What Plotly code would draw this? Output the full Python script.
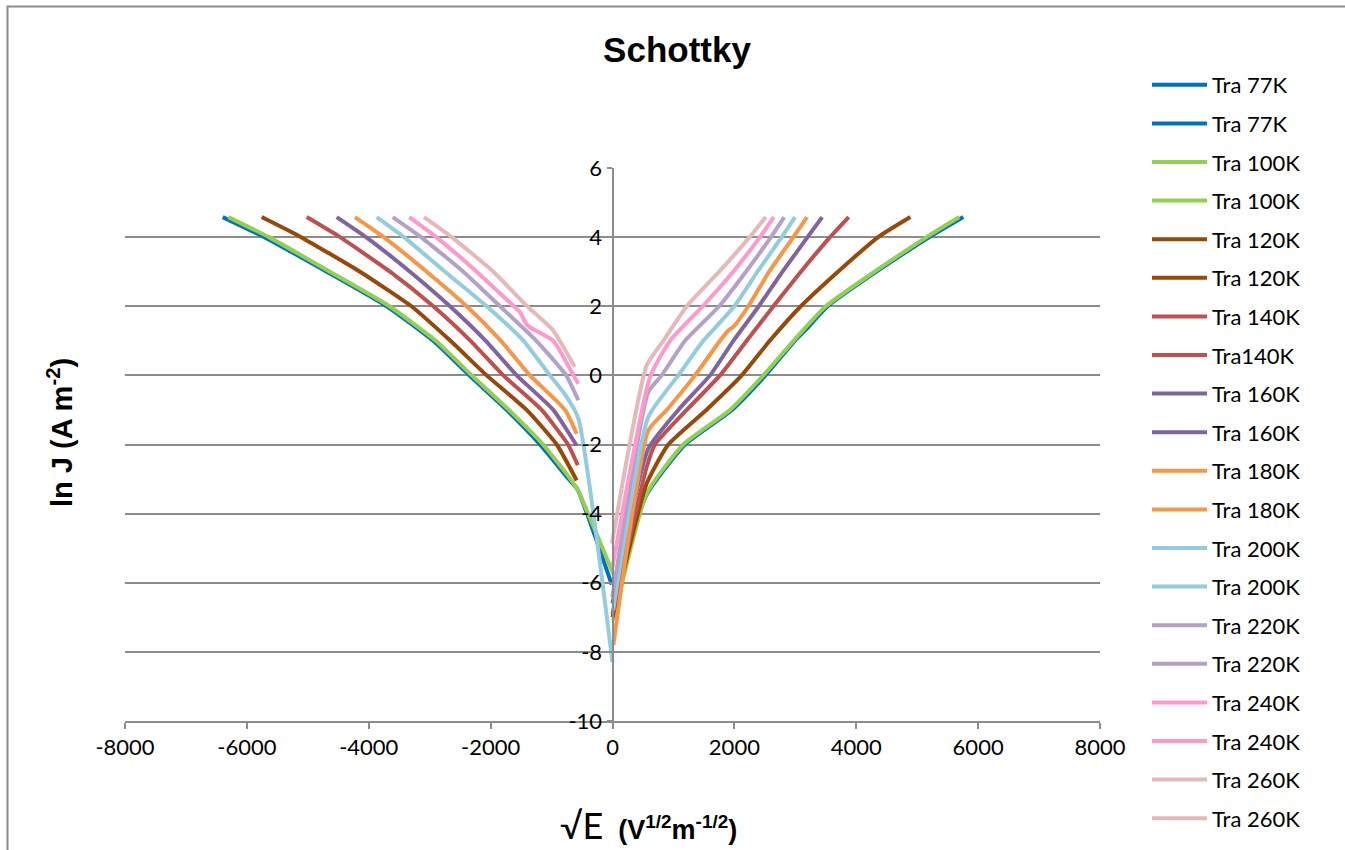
import plotly.graph_objects as go

# ---------------- data ----------------
temps = ["77K", "100K", "120K", "140K", "160K", "180K", "200K", "220K", "240K", "260K"]
legend_names = [
    ("Tra 77K", "Tra 77K"), ("Tra 100K", "Tra 100K"), ("Tra 120K", "Tra 120K"),
    ("Tra 140K", "Tra140K"), ("Tra 160K", "Tra 160K"), ("Tra 180K", "Tra 180K"),
    ("Tra 200K", "Tra 200K"), ("Tra 220K", "Tra 220K"), ("Tra 240K", "Tra 240K"),
    ("Tra 260K", "Tra 260K"),
]
colors = ["#0070C0", "#92D050", "#984807", "#C0504D", "#8064A2",
          "#F79646", "#93CDDD", "#B3A2C7", "#FF99CC", "#E6B9B8"]

# positive side (right branch): sqrt(E) values and ln J values
pos_x_77 = [0, 561, 1190, 1960, 2510, 2990, 3187, 3530, 4330, 5200, 5757]
pos_y_77 = [-6.4, -3.45, -2.0, -1.0, 0.0, 1.0, 1.35, 2.0, 3.0, 4.0, 4.58]
pos_x_100 = [13, 561, 1162, 1928, 2475, 2970, 3500, 4300, 5155, 5690]
pos_y_100 = [-7.09, -3.42, -2.0, -1.0, 0.0, 1.0, 2.0, 3.0, 4.0, 4.58]
pos_x_120 = [0, 561, 916, 1540, 2120, 2580, 3090, 3700, 4360, 4888]
pos_y_120 = [-7.0, -3.13, -2.0, -1.0, 0.0, 1.0, 2.0, 3.0, 4.0, 4.58]
pos_x_140 = [0, 561, 697, 1218, 1764, 2202, 2640, 3091, 3570, 3876]
pos_y_140 = [-6.9, -2.65, -2.0, -1.0, 0.0, 1.0, 2.0, 3.0, 4.0, 4.58]
pos_x_160 = [0, 588, 1080, 1600, 1983, 2400, 2790, 3200, 3441]
pos_y_160 = [-6.6, -2.12, -1.0, 0.0, 1.0, 2.0, 3.0, 4.0, 4.58]
pos_x_180 = [13, 588, 889, 1354, 1764, 1900, 1990, 2230, 2570, 2968, 3192]
pos_y_180 = [-7.81, -1.59, -1.0, 0.0, 1.0, 1.3, 1.42, 2.0, 3.0, 4.0, 4.58]
pos_x_200 = [10, 588, 1080, 1490, 2000, 2380, 2776, 2995]
pos_y_200 = [-6.8, -1.2, 0.0, 1.0, 2.0, 3.0, 4.0, 4.58]
pos_x_220 = [0, 588, 807, 1190, 1750, 2190, 2600, 2817]
pos_y_220 = [-6.41, -0.48, 0.0, 1.0, 2.0, 3.0, 4.0, 4.58]
pos_x_240 = [0, 615, 944, 1480, 1980, 2420, 2645]
pos_y_240 = [-5.55, -0.05, 1.0, 2.0, 3.0, 4.0, 4.58]
pos_x_260 = [-10, 561, 834, 1218, 1750, 2250, 2515]
pos_y_260 = [-4.87, 0.29, 1.0, 2.0, 3.0, 4.0, 4.58]

# negative side (left branch)
neg_x_77 = [-13, -580, -720, -1190, -1737, -2350, -2941, -3706, -4690, -5714, -6397]
neg_y_77 = [-6.05, -3.28, -3.0, -2.0, -1.0, 0.0, 1.0, 2.0, 3.0, 4.0, 4.58]
neg_x_100 = [13, -575, -690, -1140, -1700, -2310, -2900, -3660, -4640, -5638, -6304]
neg_y_100 = [-5.75, -3.3, -3.0, -2.0, -1.0, 0.0, 1.0, 2.0, 3.0, 4.0, 4.58]
neg_x_120 = [-588, -916, -1409, -2065, -2660, -3300, -4144, -5112, -5757]
neg_y_120 = [-3.04, -2.0, -1.0, 0.0, 1.0, 2.0, 3.0, 4.0, 4.58]
neg_x_140 = [-570, -730, -1163, -1792, -2330, -2941, -3651, -4471, -5018]
neg_y_140 = [-2.6, -2.0, -1.0, 0.0, 1.0, 2.0, 3.0, 4.0, 4.58]
neg_x_160 = [-588, -971, -1572, -2080, -2667, -3323, -4045, -4526]
neg_y_160 = [-2.03, -1.0, 0.0, 1.0, 2.0, 3.0, 4.0, 4.58]
neg_x_180 = [-588, -779, -1354, -1830, -2393, -3049, -3755, -4226]
neg_y_180 = [-1.69, -1.0, 0.0, 1.0, 2.0, 3.0, 4.0, 4.58]
neg_x_200 = [0, -560, -760, -1026, -1460, -2065, -2749, -3422, -3870]
neg_y_200 = [-8.3, -1.25, -0.6, 0.0, 1.0, 2.0, 3.0, 4.0, 4.58]
neg_x_220 = [-561, -760, -1250, -1846, -2448, -3143, -3607]
neg_y_220 = [-0.72, 0.0, 1.0, 2.0, 3.0, 4.0, 4.58]
neg_x_240 = [-561, -640, -971, -1400, -1518, -1620, -2229, -2892, -3334]
neg_y_240 = [-0.24, 0.0, 1.0, 1.45, 1.83, 2.0, 3.0, 4.0, 4.58]
neg_x_260 = [-620, -975, -1400, -1956, -2638, -3093]
neg_y_260 = [0.25, 1.3, 2.0, 3.0, 4.0, 4.58]

pos_series = [(pos_x_77, pos_y_77), (pos_x_100, pos_y_100), (pos_x_120, pos_y_120),
              (pos_x_140, pos_y_140), (pos_x_160, pos_y_160), (pos_x_180, pos_y_180),
              (pos_x_200, pos_y_200), (pos_x_220, pos_y_220), (pos_x_240, pos_y_240),
              (pos_x_260, pos_y_260)]
neg_series = [(neg_x_77, neg_y_77), (neg_x_100, neg_y_100), (neg_x_120, neg_y_120),
              (neg_x_140, neg_y_140), (neg_x_160, neg_y_160), (neg_x_180, neg_y_180),
              (neg_x_200, neg_y_200), (neg_x_220, neg_y_220), (neg_x_240, neg_y_240),
              (neg_x_260, neg_y_260)]

x_tick_vals = [-8000, -6000, -4000, -2000, 0, 2000, 4000, 6000, 8000]
x_tick_labels = ["-8000", "-6000", "-4000", "-2000", "0", "2000", "4000", "6000", "8000"]
y_tick_vals = [-10, -8, -6, -4, -2, 0, 2, 4, 6]
y_tick_labels = ["-10", "-8", "-6", "-4", "-2", "0", "2", "4", "6"]

# ---------------- figure ----------------
fig = go.Figure()
gidx = 0
for i, t in enumerate(temps):
    for (xs, ys), name in ((pos_series[i], legend_names[i][0]), (neg_series[i], legend_names[i][1])):
        fig.add_trace(go.Scatter(
            x=xs, y=ys, mode="lines", name=name,
            legendgroup="g%d" % gidx,
            line=dict(color=colors[i], width=4, shape="spline", smoothing=0.5),
        ))
        gidx += 1

tick_font = dict(family="Lato, Calibri, sans-serif", size=22, color="#000000")
grid_col = "#8c8c8c"

fig.update_layout(
    width=1345, height=850,
    margin=dict(l=125, r=245, t=168, b=129),
    paper_bgcolor="white", plot_bgcolor="white",
    title=dict(text="<b>Schottky</b>", x=677 / 1345, xref="container", xanchor="center",
               y=1 - 50 / 850, yref="container", yanchor="middle",
               font=dict(family="Liberation Sans, Arial, sans-serif", size=35, color="#000000")),
    xaxis=dict(range=[-8000, 8000], tickmode="array", tickvals=x_tick_vals, ticktext=x_tick_labels,
               showgrid=False, zeroline=False, showline=True, linecolor=grid_col, linewidth=2,
               ticks="outside", ticklen=6, tickwidth=2, tickcolor=grid_col, tickfont=tick_font),
    yaxis=dict(range=[-10, 6], tickmode="array", tickvals=y_tick_vals, ticktext=y_tick_labels,
               showgrid=True, gridcolor=grid_col, gridwidth=2, zeroline=False,
               showline=True, linecolor=grid_col, linewidth=2,
               anchor="free", position=0.5,
               ticks="outside", ticklen=5, tickwidth=2, tickcolor=grid_col, tickfont=tick_font),
    legend=dict(x=(1147 - 125) / 975, xanchor="left", y=(721 - 64) / 553, yanchor="top",
                traceorder="grouped", tracegroupgap=7, itemwidth=55, maxheight=850,
                font=dict(family="Lato, Calibri, sans-serif", size=22, color="#000000"),
                bgcolor="rgba(0,0,0,0)"),
    showlegend=True,
)

fig.add_annotation(text="<b>ln J (A m<sup>-2</sup>)</b>", textangle=-90,
                   xref="paper", yref="paper", x=(60 - 125) / 975, y=(721 - 433) / 553,
                   xanchor="center", yanchor="middle", showarrow=False,
                   font=dict(family="Liberation Sans, Arial, sans-serif", size=29, color="#000000"))
fig.add_annotation(text="<span style='font-family:Lato;font-weight:normal;font-size:36px'>√E</span>"
                        "  <b>(V<sup>1/2</sup>m<sup>-1/2</sup>)</b>",
                   xref="paper", yref="paper", x=(648 - 125) / 975, y=(721 - 825) / 553,
                   xanchor="center", yanchor="middle", showarrow=False,
                   font=dict(family="Liberation Sans, Arial, sans-serif", size=27, color="#000000"))

fig.add_shape(type="rect", xref="paper", yref="paper",
              x0=(7.5 - 125) / 975, x1=(1360 - 125) / 975,
              y0=(721 - 870) / 553, y1=(721 - 6.5) / 553,
              line=dict(color="#8c8c8c", width=2), fillcolor="rgba(0,0,0,0)", layer="below")

fig.write_html("out.html")
